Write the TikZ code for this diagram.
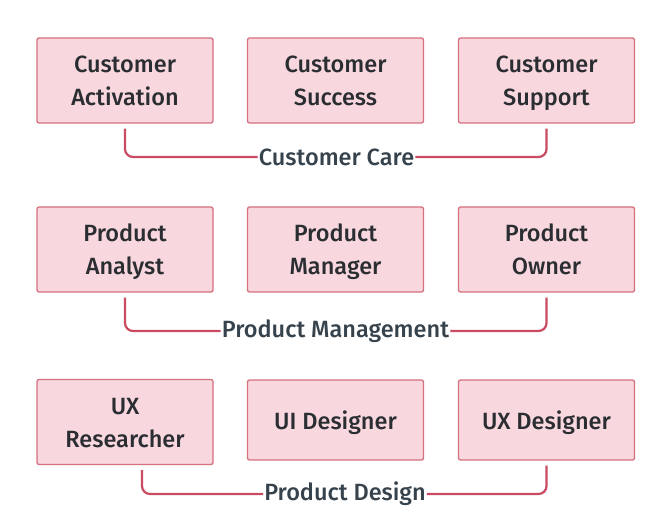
\documentclass[tikz,border=0pt]{standalone}
\usepackage{fontspec}
\setmainfont{Fira Sans}[UprightFont=* Medium]
\usetikzlibrary{positioning}
\definecolor{boxfill}{HTML}{F8D8DE}
\definecolor{boxline}{HTML}{D6707F}
\definecolor{linkline}{HTML}{C94B62}
\definecolor{roletext}{HTML}{2A2D31}
\definecolor{grouptext}{HTML}{36424C}
% invisible strut that fixes the height and depth of every text line
\newcommand\tstrut{\rule[-7.5pt]{0pt}{33pt}}
\begin{document}
\begin{tikzpicture}[x=1pt,y=-1pt,
  role/.style={draw=boxline, line width=1.3pt, fill=boxfill, rounded corners=2pt,
    minimum width=176pt, minimum height=85pt, align=center, text=roletext,
    font=\fontsize{23.5}{33}\selectfont, inner sep=0pt},
  group/.style={text=grouptext, font=\fontsize{23.5}{26}\selectfont, inner xsep=1pt, inner ysep=0pt},
  link/.style={draw=linkline, line width=2.2pt, rounded corners=8pt}]
\useasboundingbox (0,0) rectangle (655,526);
\fill[white] (0,0) rectangle (655,526);

% Customer Care
\node[role] (a1) at (125,80.5) {\tstrut Customer\\\tstrut Activation};
\node[role] (a2) at (335.5,80.5) {\tstrut Customer\\\tstrut Success};
\node[role] (a3) at (546.5,80.5) {\tstrut Customer\\\tstrut Support};
\node[group] (ga) at (336.5,157) {Customer Care};
\coordinate (a1e) at ([yshift=-5pt]a1.south);
\coordinate (a3e) at ([yshift=-5pt]a3.south);
\draw[link] (a1e) |- (ga.west);
\draw[link] (ga.east) -| (a3e);

% Product Management
\node[role] (b1) at (125,249.5) {\tstrut Product\\\tstrut Analyst};
\node[role] (b2) at (335.5,249.5) {\tstrut Product\\\tstrut Manager};
\node[role] (b3) at (546.5,249.5) {\tstrut Product\\\tstrut Owner};
\node[group] (gb) at (335.5,331) {Product Management};
\coordinate (b1e) at ([yshift=-5pt]b1.south);
\coordinate (b3e) at ([yshift=-5pt]b3.south);
\draw[link] (b1e) |- (gb.west);
\draw[link] (gb.east) -| (b3e);

% Product Design
\node[role] (c1) at (125,422) {\tstrut UX\\\tstrut Researcher};
\node[role, minimum height=80pt] (c2) at (335.5,420) {\tstrut UI Designer};
\node[role, minimum height=80pt] (c3) at (546.5,420) {\tstrut UX Designer};
\node[group] (gc) at (345,494) {Product Design};
\coordinate (c1e) at ([xshift=17pt,yshift=-5pt]c1.south);
\coordinate (c3e) at ([yshift=-5pt]c3.south);
\draw[link] (c1e) |- (gc.west);
\draw[link] (gc.east) -| (c3e);
\end{tikzpicture}
\end{document}
